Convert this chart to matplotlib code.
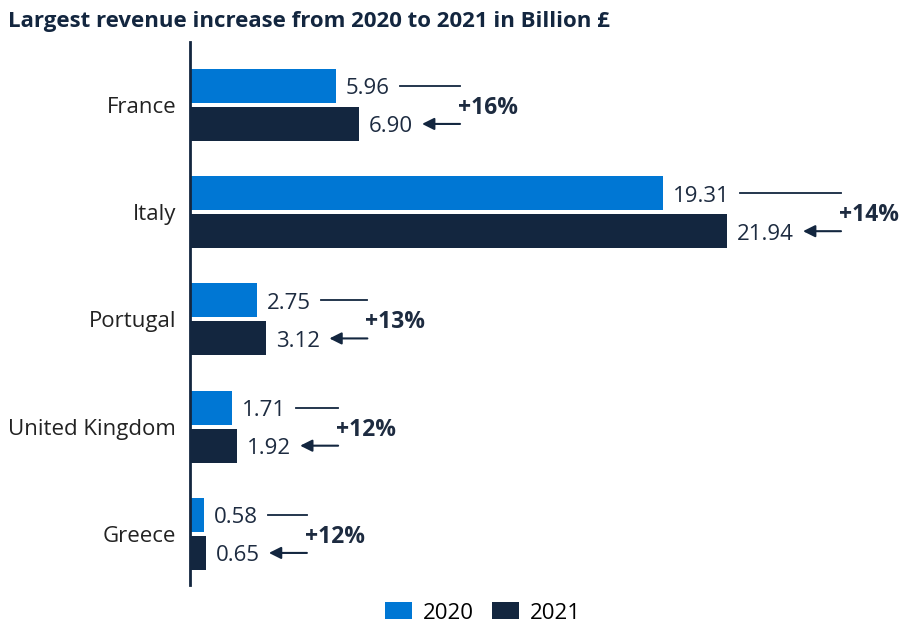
import numpy as np
from matplotlib import pyplot as plt

plt.rcParams['font.family'] = ['Open Sans', 'DejaVu Sans']

countries = ["France", "Italy", "Portugal", "United Kingdom", "Greece"]
rev_2020 = [5.96, 19.31, 2.75, 1.71, 0.58]
rev_2021 = [6.90, 21.94, 3.12, 1.92, 0.65]
growth = ["+16%", "+14%", "+13%", "+12%", "+12%"]

BLUE = "#0077d4"
NAVY = "#13263f"
TEXT = "#1d2b40"

fig = plt.figure(figsize=(9, 6.25), dpi=100)
ax = fig.add_axes([190 / 900, 40 / 625, 710 / 900, 543 / 625])

y = np.arange(len(countries))
h = 0.317
off = 0.177
ax.barh(y - off, rev_2020, height=h, color=BLUE, label="2020")
ax.barh(y + off, rev_2021, height=h, color=NAVY, label="2021")

ax.set_xlim(0, 29.0)
ax.set_ylim(4.476, -0.587)
ax.set_yticks(y)
ax.set_yticklabels(countries, fontsize=16, color="#222222")
ax.tick_params(axis="y", length=0, pad=10)
ax.set_xticks([])
for s in ["top", "right", "bottom"]:
    ax.spines[s].set_visible(False)
ax.spines["left"].set_color(NAVY)
ax.spines["left"].set_linewidth(2)

px = 29.0 / 710  # data units per pixel along x
dy = 0.028       # small downward nudge for the labels

t20s, t21s = [], []
for i in range(len(countries)):
    t20s.append(ax.text(rev_2020[i] + 10 * px, y[i] - off + dy, f"{rev_2020[i]:.2f}",
                        va="center", ha="left", fontsize=16, color=TEXT))
    t21s.append(ax.text(rev_2021[i] + 10 * px, y[i] + off + dy, f"{rev_2021[i]:.2f}",
                        va="center", ha="left", fontsize=16, color=TEXT))

fig.canvas.draw()
inv = ax.transData.inverted()
for i in range(len(countries)):
    e20 = inv.transform(t20s[i].get_window_extent().get_points())[1][0]
    e21 = inv.transform(t21s[i].get_window_extent().get_points())[1][0]
    x_end = e21 + 47 * px
    ax.plot([e20 + 10 * px, x_end], [y[i] - off, y[i] - off], color=NAVY, lw=1.3)
    ax.annotate("", xy=(e21 + 9 * px, y[i] + off), xytext=(x_end, y[i] + off),
                arrowprops=dict(arrowstyle="-|>", color=NAVY, lw=1.5,
                                mutation_scale=18, shrinkA=0, shrinkB=0))
    ax.text(x_end - 2 * px, y[i] + dy, growth[i], va="center", ha="left",
            fontsize=16.5, fontweight="bold", color=TEXT)

fig.text(8 / 900, 1 - 22 / 625, "Largest revenue increase from 2020 to 2021 in Billion £",
         fontsize=16, fontweight="bold", color=NAVY, va="center", ha="left")

fig.legend(loc="center", bbox_to_anchor=(483 / 900, 1 - 613 / 625), ncol=2,
           frameon=False, fontsize=16, handlelength=1.2, handleheight=0.8,
           columnspacing=0.8, handletextpad=0.5)

fig.savefig("out.png", dpi=100)
